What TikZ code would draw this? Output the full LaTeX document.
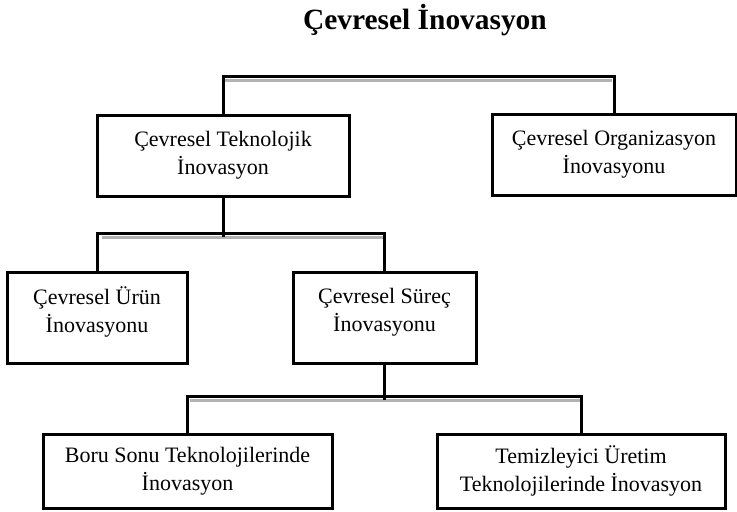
\documentclass[tikz,border=0pt]{standalone}
\usepackage{fontspec}
\setmainfont{Liberation Serif}
\usetikzlibrary{calc}

\begin{document}
\begin{tikzpicture}[x=0.5pt, y=-0.5pt,
    kutu/.style={draw, line width=1.5pt, align=center, inner sep=0pt,
      font=\fontsize{11}{14}\selectfont},
    hat/.style={line width=1.5pt},
    golge/.style={gray!60, line width=1.4pt}]
  \useasboundingbox (0,0) rectangle (737,511);
  % baslik
  \node[font=\fontsize{14.7}{17}\selectfont\bfseries] (baslik) at (425,20) {Çevresel İnovasyon};
  % kutular
  \node[kutu, minimum width=126pt, minimum height=40.5pt] (tek) at (223,155.5)
    {Çevresel Teknolojik\\İnovasyon};
  \node[kutu, minimum width=122pt, minimum height=40.5pt] (org) at (614,154.5)
    {Çevresel Organizasyon\\İnovasyonu};
  \node[kutu, minimum width=90pt, minimum height=45.5pt, text depth=8pt] (urun) at (97,317.5)
    {Çevresel Ürün\\İnovasyonu};
  \node[kutu, minimum width=91.5pt, minimum height=45.5pt, text depth=8pt] (surec) at (384.5,317.5)
    {Çevresel Süreç\\İnovasyonu};
  \node[kutu, minimum width=144.5pt, minimum height=37pt] (boru) at (187.5,471)
    {Boru Sonu Teknolojilerinde\\İnovasyon};
  \node[kutu, minimum width=144pt, minimum height=37pt] (temiz) at (581,471)
    {Temizleyici Üretim\\Teknolojilerinde İnovasyon};
  % golgeler
  \foreach \a/\b/\y in {225/612/80.5, 102/385/237.5, 190/581/400.5}
    \draw[golge] (\a,\y) -- (\b,\y);
  % baglantilar
  \draw[hat] (tek.north) -- ++(0,-37) -| (org.north);
  \draw[hat] (tek.south) -- ++(0,39);
  \draw[hat] (urun.north) -- ++(0,-37) -| (surec.north);
  \draw[hat] (surec.south) -- ++(0,35);
  \draw[hat] (boru.north) -- ++(0,-36) -| (temiz.north);
\end{tikzpicture}
\end{document}
